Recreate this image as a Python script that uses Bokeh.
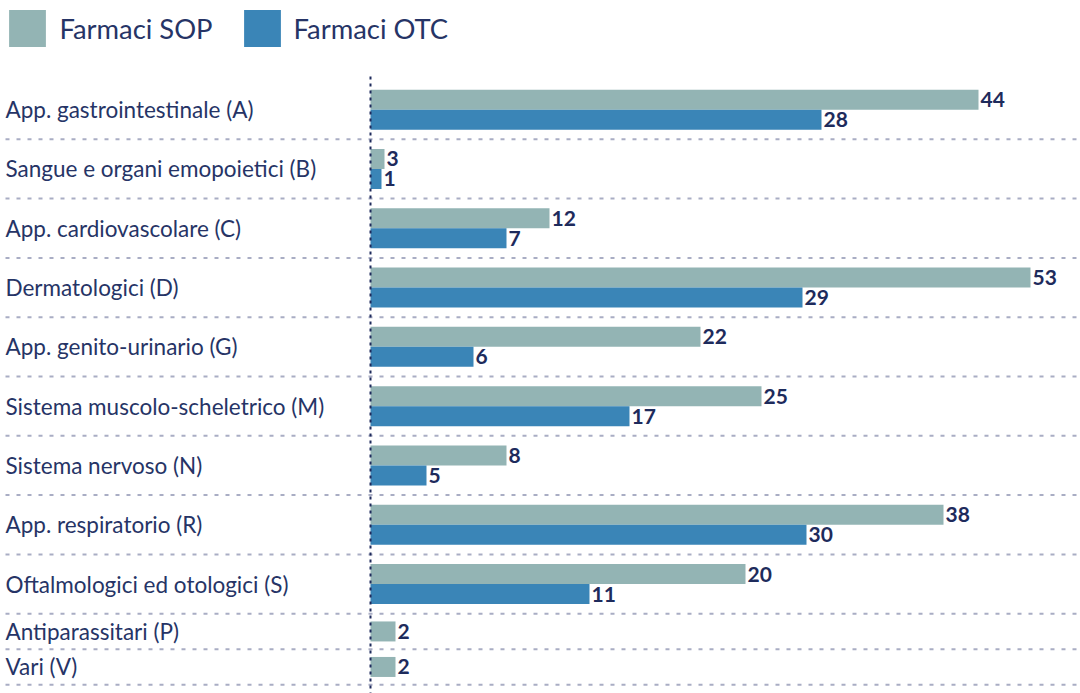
from bokeh.plotting import figure
from bokeh.models import Range1d, ColumnDataSource, Legend, LegendItem
from bokeh.core.properties import value
from bokeh.embed import file_html
from bokeh.resources import INLINE

# ---- data -------------------------------------------------------------
categories = [
    "App. gastrointestinale (A)",
    "Sangue e organi emopoietici (B)",
    "App. cardiovascolare (C)",
    "Dermatologici (D)",
    "App. genito-urinario (G)",
    "Sistema muscolo-scheletrico (M)",
    "Sistema nervoso (N)",
    "App. respiratorio (R)",
    "Oftalmologici ed otologici (S)",
    "Antiparassitari (P)",
    "Vari (V)",
]
# numbers printed next to the bars
sop_labels = [44, 3, 12, 53, 22, 25, 8, 38, 20, 2, 2]
otc_labels = [28, 1, 7, 29, 6, 17, 5, 30, 11, None, None]
# bar lengths as drawn in the source (they are not proportional to the labels)
sop_len = [60.8, 1.4, 17.9, 66.0, 33.0, 39.1, 13.6, 57.3, 37.5, 2.5, 2.5]
otc_len = [45.1, 1.1, 13.6, 43.2, 10.3, 25.9, 5.6, 43.6, 21.9, None, None]

series_names = ["Farmaci SOP", "Farmaci OTC"]

# ---- style ------------------------------------------------------------
SOP_COLOR = "#93B4B4"
OTC_COLOR = "#3A85B7"
TEXT_COLOR = "#263466"
VALUE_COLOR = "#1E2B5C"
SEP_COLOR = "#A9ADC4"
FONT = "Lato"

W, H = 1080, 693
BAR_H = 20.0
ROW_TWO = 59.3
ROW_ONE = 35.5
TOP = 79.5

p = figure(width=W, height=H, x_range=Range1d(-37.0, 71.0), y_range=Range1d(H, 0),
           output_backend="svg", toolbar_location=None, min_border=0,
           x_axis_location=None, y_axis_location=None)
p.grid.visible = False
p.outline_line_color = None
p.background_fill_color = "white"
p.border_fill_color = "white"

# ---- row layout -------------------------------------------------------
centers, bottoms = [], []
y = TOP
for i in range(len(categories)):
    h = ROW_TWO if otc_len[i] is not None else ROW_ONE
    centers.append(y + h / 2)
    y += h
    bottoms.append(y)

sop_y, otc_y, otc_x, otc_lab = [], [], [], []
for i, c in enumerate(centers):
    if otc_len[i] is not None:
        sop_y.append(c - BAR_H / 2)
        otc_y.append(c + BAR_H / 2)
        otc_x.append(otc_len[i])
        otc_lab.append(str(otc_labels[i]))
    else:
        sop_y.append(c)

sop_src = ColumnDataSource(dict(y=sop_y, x=sop_len, lab=[str(v) for v in sop_labels],
                                lx=[v + 0.2 for v in sop_len]))
otc_src = ColumnDataSource(dict(y=otc_y, x=otc_x, lab=otc_lab,
                                lx=[v + 0.2 for v in otc_x]))

# separators
xs0 = p.x_range.start + 0.5
xs1 = p.x_range.end
p.segment(x0=[xs0] * len(bottoms), x1=[xs1] * len(bottoms), y0=bottoms, y1=bottoms,
          line_color=SEP_COLOR, line_width=2, line_dash="4 7")

r_sop = p.hbar(y="y", right="x", left=0, height=BAR_H, source=sop_src,
               fill_color=SOP_COLOR, line_color=None)
r_otc = p.hbar(y="y", right="x", left=0, height=BAR_H, source=otc_src,
               fill_color=OTC_COLOR, line_color=None)

# vertical dotted axis line
p.segment(x0=[0], x1=[0], y0=[76], y1=[H], line_color=VALUE_COLOR, line_width=2,
          line_dash="3 4")

# value labels
for src in (sop_src, otc_src):
    p.text(x="lx", y="y", text="lab", source=src, text_font=value(FONT),
           text_font_style="bold", text_font_size="21px", text_color=VALUE_COLOR,
           text_baseline="middle", text_align="left")

# category labels
p.text(x=[xs0] * len(categories), y=centers, text=categories, text_font=value(FONT),
       text_font_size="22.5px", text_color=TEXT_COLOR, text_baseline="middle",
       text_align="left")

legend = Legend(items=[LegendItem(label=series_names[0], renderers=[r_sop]),
                       LegendItem(label=series_names[1], renderers=[r_otc])],
                orientation="horizontal", location=(4.4, 641.6),
                glyph_width=46, glyph_height=46, label_text_font=FONT,
                label_text_font_size="27.4px", label_text_color=TEXT_COLOR,
                label_standoff=9, spacing=26, padding=0, margin=0,
                border_line_color=None, background_fill_alpha=0)
p.add_layout(legend)

open("out.html", "w").write(file_html(p, INLINE))
